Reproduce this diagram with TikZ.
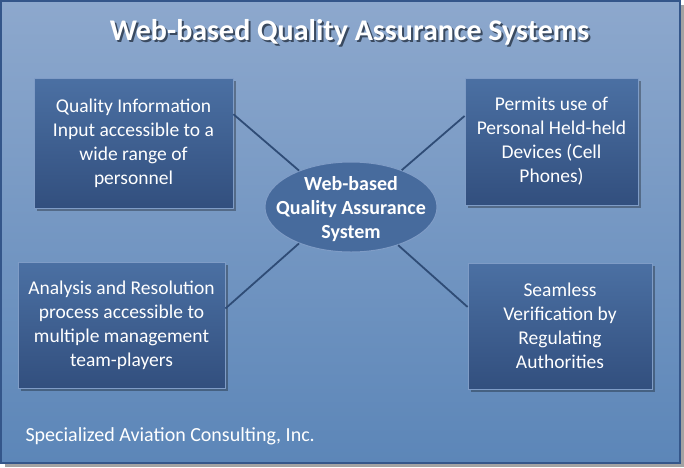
\documentclass[tikz,border=0pt]{standalone}
\usepackage{fontspec}
\setmainfont{Carlito}
\usetikzlibrary{positioning, calc, shapes.geometric, shadows}

\definecolor{paneltop}{HTML}{8DA8CD}
\definecolor{panelbot}{HTML}{5C86B8}
\definecolor{paneledge}{HTML}{34568A}
\definecolor{boxtop}{HTML}{4B70A3}
\definecolor{boxbot}{HTML}{324F7E}
\definecolor{boxedge}{HTML}{7F9CC6}
\definecolor{linkcol}{HTML}{2F4C76}
\definecolor{shade}{HTML}{3A4A60}

\newcommand{\shadowtext}[1]{\rlap{\kern2pt\raisebox{-2pt}{\color{shade}#1}}#1}
\newcommand{\hubtext}[1]{\smash{\makebox[0pt]{\raisebox{-7.5pt}{\begin{tabular}{@{}c@{}}#1\end{tabular}}}}}

\begin{document}
\begin{tikzpicture}[x=1pt, y=-1pt,
  panel/.style={rectangle, draw=paneledge, line width=1.2pt, top color=paneltop, bottom color=panelbot,
                minimum width=679pt, minimum height=462pt, inner sep=0pt,
                drop shadow={shadow xshift=4pt, shadow yshift=-4pt, fill=black!45, opacity=0.8}},
  topic/.style={rectangle, draw=boxedge, line width=0.8pt, top color=boxtop, bottom color=boxbot,
                text=white, align=center, inner sep=1pt,
                font=\fontsize{19.5}{24}\selectfont,
                drop shadow={shadow xshift=3pt, shadow yshift=-3pt, fill=black, opacity=0.3}},
  hub/.style={ellipse, draw=boxedge, line width=1pt, fill=boxtop!85!boxbot, text=white,
              inner sep=0pt, minimum width=172pt, minimum height=90pt,
              font=\fontsize{20}{24}\selectfont\bfseries},
  link/.style={draw=linkcol, line width=1.8pt},
  headline/.style={font=\fontsize{30}{34}\selectfont\bfseries, text=white},
  foot/.style={font=\fontsize{20}{24}\selectfont, text=white, anchor=west},
]
\useasboundingbox (0,0) rectangle (684,467);

% ===== BACKGROUND PANEL =====
\node[panel] (bg) at (340.5,232) {};

% ===== TITLE =====
\node[headline] (title) at (349.5,33) {\shadowtext{Web-based Quality Assurance Systems}};

% ===== CENTRAL HUB =====
\node[hub] (sys) at (351,207) {\hubtext{Web-based\\Quality Assurance\\System}};

% ===== FOUR TOPIC BOXES =====
\node[topic, minimum width=199pt, minimum height=130pt] (tl) at (133.5,143)
  {Quality Information\\Input accessible to a\\wide range of\\personnel};
\node[topic, minimum width=173pt, minimum height=127pt] (tr) at (551.5,141.5)
  {Permits use of\\Personal Held-held\\Devices (Cell\\Phones)};
\node[topic, minimum width=207pt, minimum height=126pt] (bl) at (121.5,325)
  {Analysis and Resolution\\process accessible to\\multiple management\\team-players};
\node[topic, minimum width=184pt, minimum height=126pt] (br) at (560,326)
  {Seamless\\Verification by\\Regulating\\Authorities};

% ===== CONNECTORS =====
\draw[link] ($(tl.north east)!0.28!(tl.south east)$) -- (sys.145);
\draw[link] ($(tr.north west)!0.30!(tr.south west)$) -- (sys.36);
\draw[link] ($(bl.north east)!0.37!(bl.south east)$) -- (sys.215);
\draw[link] ($(br.north west)!0.35!(br.south west)$) -- (sys.321);

% ===== FOOTER =====
\node[foot] (company) at (22,436) {Specialized Aviation Consulting, Inc.};

\end{tikzpicture}
\end{document}
